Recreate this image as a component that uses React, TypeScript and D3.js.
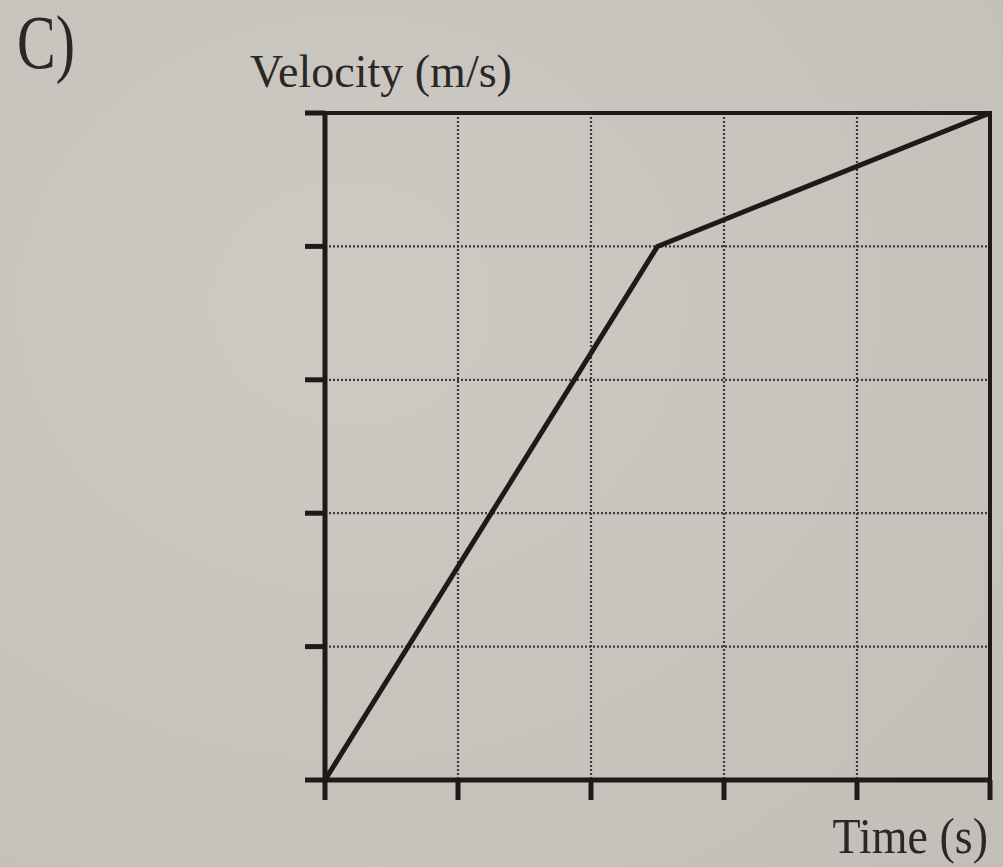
import React from "react";
import * as d3 from "d3";

// Velocity–time graph: piecewise linear motion
const timeTicks = [0, 1, 2, 3, 4, 5];
const velocityTicks = [0, 1, 2, 3, 4, 5];
const timeValues = [0, 2.5, 5];
const velocityValues = [0, 4, 5];

const W = 1003;
const H = 867;
const INK = "#1d1a18";
const FONT = "'Liberation Serif', 'DejaVu Serif', serif";

export default function App() {
  const x = d3.scaleLinear().domain([0, 5]).range([325, 990]);
  const y = d3.scaleLinear().domain([0, 5]).range([780, 113]);

  const points: [number, number][] = timeValues.map((t, i) => [t, velocityValues[i]]);
  const line = d3
    .line<[number, number]>()
    .x((d) => x(d[0]))
    .y((d) => y(d[1]));

  const tickLen = 20;

  return (
    <svg
      width={W}
      height={H}
      style={{ position: "absolute", left: 0, top: 0, display: "block" }}
    >
      <defs>
        <radialGradient id="paper" cx="0.35" cy="0.35" r="0.9">
          <stop offset="0" stopColor="#cdcac4" />
          <stop offset="1" stopColor="#c2bfb9" />
        </radialGradient>
      </defs>
      <rect x={0} y={0} width={W} height={H} fill="url(#paper)" />

      {/* dotted grid */}
      {timeTicks.slice(1, -1).map((t) => (
        <line
          key={"gx" + t}
          x1={x(t)}
          x2={x(t)}
          y1={y(5)}
          y2={y(0)}
          stroke="#3e3a37"
          strokeWidth={2.2}
          strokeDasharray="2,2"
        />
      ))}
      {velocityTicks.slice(1, -1).map((v) => (
        <line
          key={"gy" + v}
          x1={x(0)}
          x2={x(5)}
          y1={y(v)}
          y2={y(v)}
          stroke="#3e3a37"
          strokeWidth={2.2}
          strokeDasharray="2,2"
        />
      ))}

      {/* left axis ticks */}
      {velocityTicks.map((v) => (
        <line
          key={"ty" + v}
          x1={x(0) - tickLen}
          x2={x(0)}
          y1={y(v)}
          y2={y(v)}
          stroke={INK}
          strokeWidth={5}
        />
      ))}
      {/* bottom axis ticks */}
      {timeTicks.map((t) => (
        <line
          key={"tx" + t}
          x1={x(t)}
          x2={x(t)}
          y1={y(0)}
          y2={y(0) + tickLen}
          stroke={INK}
          strokeWidth={5}
        />
      ))}

      {/* frame */}
      <rect
        x={x(0)}
        y={y(5)}
        width={x(5) - x(0)}
        height={y(0) - y(5)}
        fill="none"
        stroke={INK}
        strokeWidth={4}
      />
      <line x1={x(0)} x2={x(0)} y1={y(5)} y2={y(0)} stroke={INK} strokeWidth={5} />
      <line x1={x(0)} x2={x(5)} y1={y(0)} y2={y(0)} stroke={INK} strokeWidth={5} />

      {/* velocity curve */}
      <path
        d={line(points) ?? ""}
        fill="none"
        stroke={INK}
        strokeWidth={5}
        strokeLinejoin="miter"
      />

      {/* labels */}
      <text
        x={0}
        y={0}
        transform="translate(17,68) scale(1,1.3)"
        fontFamily={FONT}
        fontSize={58}
        fill="#2a2725"
      >
        C)
      </text>
      <text x={250} y={87} fontFamily={FONT} fontSize={46} fill="#2a2725">
        Velocity (m/s)
      </text>
      <text
        x={0}
        y={0}
        transform="translate(988,853) scale(1,1.12)"
        textAnchor="end"
        fontFamily={FONT}
        fontSize={46}
        fill="#2a2725"
      >
        Time (s)
      </text>
    </svg>
  );
}
